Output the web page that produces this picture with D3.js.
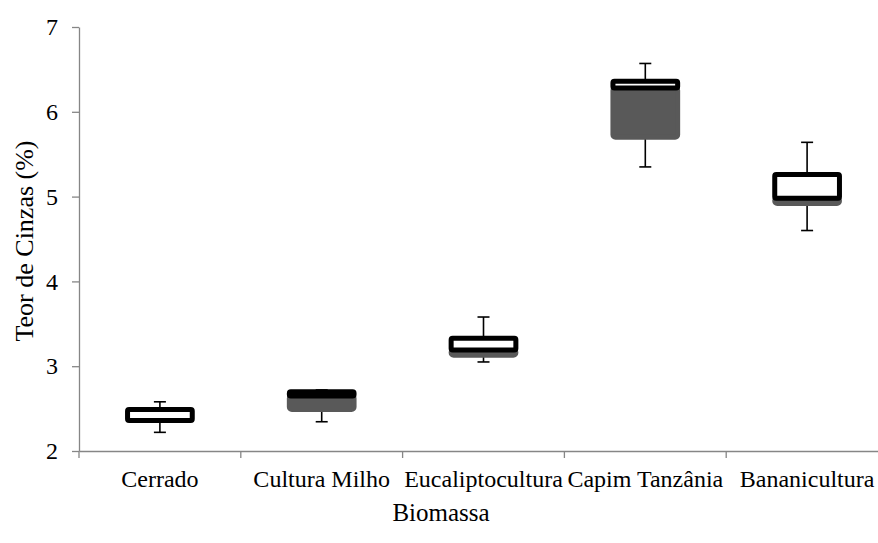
<!DOCTYPE html>
<html>
<head>
<meta charset="utf-8">
<script src="https://cdn.jsdelivr.net/npm/d3@7"></script>
<style>
  html, body { margin: 0; padding: 0; background: #fff; }
  svg { display: block; }
  text { font-family: "Liberation Serif", "Times New Roman", serif; fill: #000; }
</style>
</head>
<body>
<svg id="chart" width="878" height="543"></svg>
<script>
const categories = ["Cerrado", "Cultura Milho", "Eucaliptocultura", "Capim Tanzânia", "Bananicultura"];
const minVals    = [2.22, 2.345, 3.05, 5.35, 4.60];
const q1Vals     = [2.36, 2.49, 3.13, 5.70, 4.92];
const medianVals = [2.36, 2.65, 3.19, 6.28, 4.98];
const q3Vals     = [2.49, 2.70, 3.33, 6.36, 5.26];
const maxVals    = [2.58, 2.72, 3.58, 6.57, 5.64];
const yTicks = [2, 3, 4, 5, 6, 7];
const yTitle = "Teor de Cinzas (%)";
const xTitle = "Biomassa";

const svg = d3.select("#chart");
const mLeft = 79, mTop = 27, mBottom = 451, mRight = 888;

const x = d3.scaleBand().domain(categories).range([mLeft, mRight]).paddingInner(0).paddingOuter(0);
const y = d3.scaleLinear().domain([2, 7]).range([mBottom, mTop]);

const axisColor = "#868686";

// Y axis
const yAxis = svg.append("g").attr("transform", `translate(${mLeft},0)`)
  .call(d3.axisLeft(y).tickValues(yTicks).tickSize(7).tickSizeOuter(0).tickPadding(14).tickFormat(d3.format("d")));
yAxis.select(".domain").attr("stroke", axisColor).attr("stroke-width", 1.3);
yAxis.selectAll(".tick line").attr("stroke", axisColor).attr("stroke-width", 1.3);
yAxis.selectAll(".tick text").attr("font-size", 24).attr("font-family", "Liberation Serif").attr("fill", "#000");

// X axis
const xAxis = svg.append("g").attr("transform", `translate(0,${mBottom})`)
  .call(d3.axisBottom(x).tickSize(0).tickSizeOuter(0).tickPadding(19));
xAxis.select(".domain").attr("stroke", axisColor).attr("stroke-width", 1.3);
xAxis.selectAll(".tick text").attr("font-size", 24).attr("font-family", "Liberation Serif").attr("fill", "#000");
// boundary tick marks
const bounds = categories.map(c => x(c)).concat([mRight]);
svg.append("g").selectAll("line").data(bounds).join("line")
  .attr("x1", d => d).attr("x2", d => d)
  .attr("y1", mBottom).attr("y2", mBottom + 7)
  .attr("stroke", axisColor).attr("stroke-width", 1.3);

const bw = x.bandwidth() * 0.4;
const data = categories.map((c, i) => ({
  c, min: minVals[i], q1: q1Vals[i], med: medianVals[i], q3: q3Vals[i], max: maxVals[i]
}));
const cx = d => x(d.c) + x.bandwidth() / 2;

const g = svg.append("g");
// whiskers
g.selectAll(".wup").data(data).join("line")
  .attr("x1", cx).attr("x2", cx).attr("y1", d => y(d.max)).attr("y2", d => y(d.q3))
  .attr("stroke", "#000").attr("stroke-width", 1.6);
g.selectAll(".wdn").data(data).join("line")
  .attr("x1", cx).attr("x2", cx).attr("y1", d => y(d.q1)).attr("y2", d => y(d.min))
  .attr("stroke", "#000").attr("stroke-width", 1.6);
g.selectAll(".capup").data(data).join("line")
  .attr("x1", d => cx(d) - 6).attr("x2", d => cx(d) + 6).attr("y1", d => y(d.max)).attr("y2", d => y(d.max))
  .attr("stroke", "#000").attr("stroke-width", 1.6);
g.selectAll(".capdn").data(data).join("line")
  .attr("x1", d => cx(d) - 6).attr("x2", d => cx(d) + 6).attr("y1", d => y(d.min)).attr("y2", d => y(d.min))
  .attr("stroke", "#000").attr("stroke-width", 1.6);

// lower box (Q1 -> median), grey
g.selectAll(".lower").data(data).join("rect")
  .attr("x", d => cx(d) - bw / 2).attr("width", bw)
  .attr("y", d => y(d.med)).attr("height", d => y(d.q1) - y(d.med))
  .attr("rx", 2.5)
  .attr("fill", "#595959").attr("stroke", "#595959").attr("stroke-width", 5).attr("stroke-linejoin", "round");

// upper box (median -> Q3), white with thick black border
g.selectAll(".upper").data(data).join("rect")
  .attr("x", d => cx(d) - bw / 2).attr("width", bw)
  .attr("y", d => y(d.q3)).attr("height", d => y(d.med) - y(d.q3))
  .attr("rx", 1.5)
  .attr("fill", "#fff").attr("stroke", "#000").attr("stroke-width", 5).attr("stroke-linejoin", "round");

// titles
svg.append("text")
  .attr("transform", `translate(33,${(mTop + mBottom) / 2 + 2}) rotate(-90)`)
  .attr("text-anchor", "middle").attr("font-size", 26).attr("fill", "#000").text(yTitle);
svg.append("text")
  .attr("x", 441).attr("y", 521)
  .attr("text-anchor", "middle").attr("font-size", 25).attr("fill", "#000").text(xTitle);
</script>
</body>
</html>
